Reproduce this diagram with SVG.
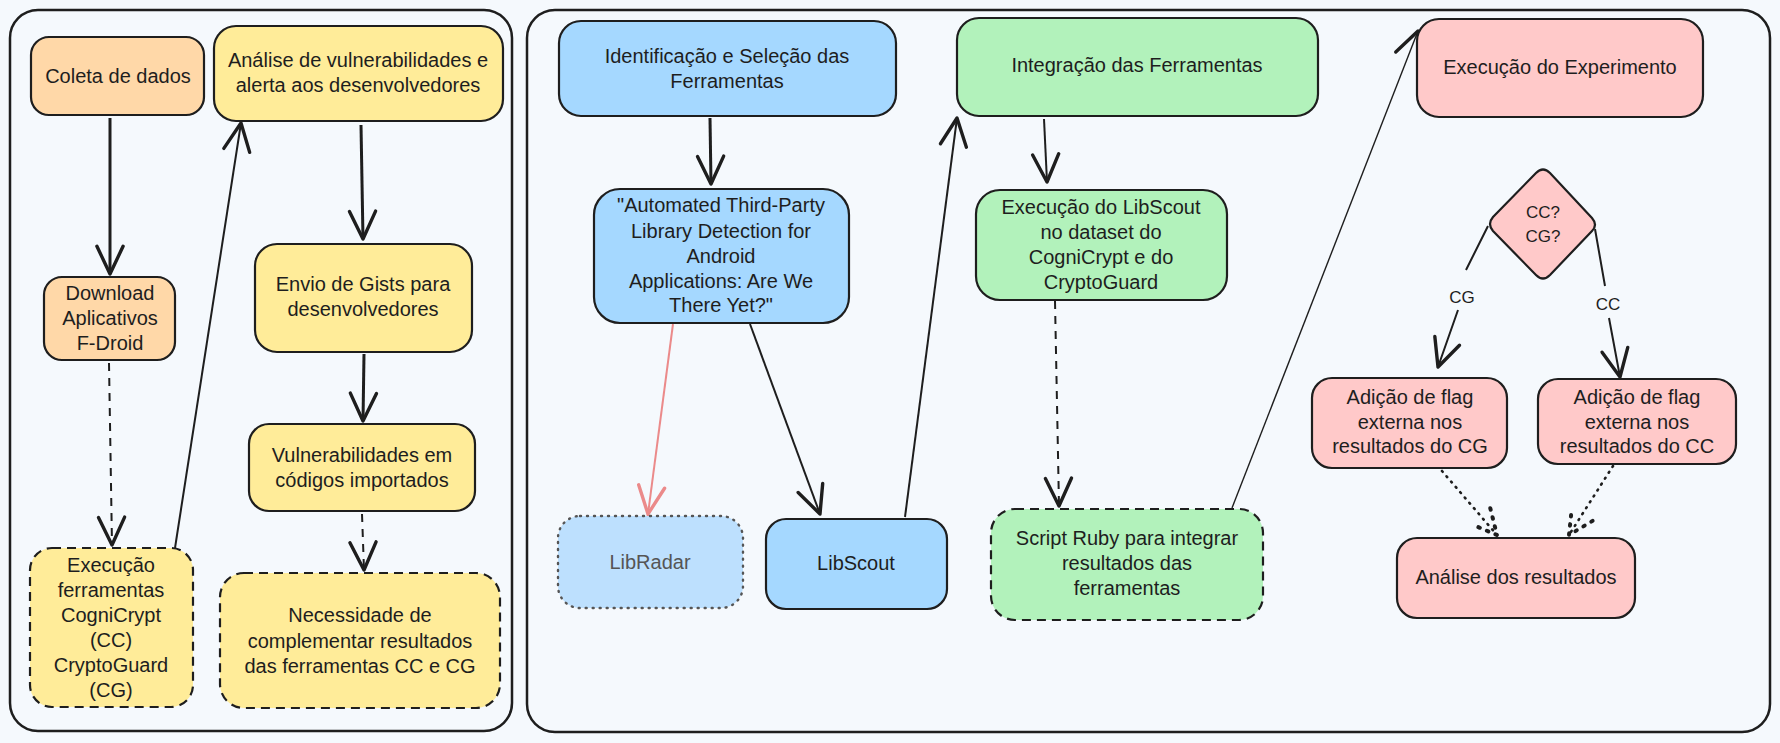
<svg xmlns="http://www.w3.org/2000/svg" width="1780" height="743" viewBox="0 0 1780 743">
<style>
text{font-family:"Liberation Sans",Arial,sans-serif;font-size:20px;fill:#1e1e1e;text-anchor:middle}
.n{stroke:#1e1e1e;stroke-width:2.2}
.dash{stroke-dasharray:9 6}
.or{fill:#ffd8a8}.ye{fill:#ffec99}.bl{fill:#a5d8ff}.gr{fill:#b2f2bb}.pk{fill:#ffc9c9}
.panel{fill:#f5f9fd;stroke:#1e1e1e;stroke-width:2.5}
.c{fill:none;stroke:#1e1e1e;stroke-width:2;marker-end:url(#ah)}
.thick{stroke-width:3}
.thin{stroke-width:1.4}
.dsh{stroke-dasharray:8 7}
.dot{stroke-dasharray:1 6;stroke-linecap:round;stroke-width:2.6;marker-end:url(#ahd)}
.red{stroke:#eb8a8a;marker-end:url(#ahr)}
.lbl{font-size:17px}
</style>
<defs>
<marker id="ah" markerUnits="userSpaceOnUse" markerWidth="40" markerHeight="40" refX="0" refY="0" viewBox="-22 -12 26 24" orient="auto" overflow="visible">
<path d="M-18 -8.5 L0 0 L-18 8.5" fill="none" stroke="#1e1e1e" stroke-width="2.2" stroke-linecap="round" stroke-linejoin="round"/>
</marker>
<marker id="ahr" markerUnits="userSpaceOnUse" markerWidth="40" markerHeight="40" refX="0" refY="0" viewBox="-22 -12 26 24" orient="auto" overflow="visible">
<path d="M-18 -8.5 L0 0 L-18 8.5" fill="none" stroke="#eb8a8a" stroke-width="2.2" stroke-linecap="round"/>
</marker>
<marker id="ahd" markerUnits="userSpaceOnUse" markerWidth="40" markerHeight="40" refX="0" refY="0" viewBox="-22 -12 26 24" orient="auto" overflow="visible">
<path d="M-16 -8 L0 0 L-16 8" fill="none" stroke="#1e1e1e" stroke-width="2.6" stroke-dasharray="1 5" stroke-linecap="round"/>
</marker>
</defs>
<rect x="0" y="0" width="1780" height="743" fill="#f5f9fd"/>
<g id="panels">
<rect class="panel" x="10" y="10" width="502" height="721" rx="28"/>
<rect class="panel" x="527" y="10" width="1243" height="722" rx="28"/>
</g>
<g id="connectors">
<line class="c thick" x1="110" y1="118" x2="110" y2="274"/>
<line class="c dsh" x1="109" y1="363" x2="112" y2="545"/>
<line class="c" x1="175" y1="548" x2="241" y2="123"/>
<line class="c thick" x1="361" y1="125" x2="363" y2="239"/>
<line class="c thick" x1="364" y1="354" x2="363" y2="421"/>
<line class="c dsh" x1="362" y1="514" x2="364" y2="570"/>
<line class="c thick" x1="710" y1="118" x2="711" y2="184"/>
<line class="c red" x1="673" y1="324" x2="648" y2="514"/>
<line class="c" x1="750" y1="324" x2="820" y2="514"/>
<line class="c" x1="905" y1="517" x2="957" y2="118"/>
<line class="c" x1="1044" y1="119" x2="1047" y2="182"/>
<line class="c dsh" x1="1055" y1="301" x2="1059" y2="506"/>
<line class="c thin" x1="1232" y1="508" x2="1418" y2="31"/>
<path class="c" d="M1488 226 L1466 270 M1458 310 L1438 367"/>
<path class="c" d="M1595 229 L1605 286 M1609 318 L1620 377"/>
<line class="c dot" x1="1442" y1="471" x2="1497" y2="535"/>
<line class="c dot" x1="1613" y1="466" x2="1569" y2="535"/>
<text class="lbl" x="1462" y="303">CG</text>
<text class="lbl" x="1608" y="310">CC</text>
</g>
<g id="coleta"><rect class="n or" x="31" y="37" width="173" height="78" rx="18"/><text x="118" y="83">Coleta de dados</text></g>
<g id="analise"><rect class="n ye" x="214" y="26" width="289" height="95" rx="22"/><text x="358" y="67">Análise de vulnerabilidades e</text><text x="358" y="92">alerta aos desenvolvedores</text></g>
<g id="download"><rect class="n or" x="44" y="277" width="131" height="83" rx="18"/><text x="110" y="300">Download</text><text x="110" y="325">Aplicativos</text><text x="110" y="350">F-Droid</text></g>
<g id="execucao"><rect class="n ye dash" x="30" y="548" width="163" height="159" rx="22"/><text x="111" y="572">Execução</text><text x="111" y="597">ferramentas</text><text x="111" y="622">CogniCrypt</text><text x="111" y="647">(CC)</text><text x="111" y="672">CryptoGuard</text><text x="111" y="697">(CG)</text></g>
<g id="envio"><rect class="n ye" x="255" y="244" width="217" height="108" rx="22"/><text x="363" y="291">Envio de Gists para</text><text x="363" y="316">desenvolvedores</text></g>
<g id="vuln"><rect class="n ye" x="249" y="424" width="226" height="87" rx="20"/><text x="362" y="462">Vulnerabilidades em</text><text x="362" y="487">códigos importados</text></g>
<g id="necessidade"><rect class="n ye dash" x="220" y="573" width="280" height="135" rx="24"/><text x="360" y="622">Necessidade de</text><text x="360" y="648">complementar resultados</text><text x="360" y="673">das ferramentas CC e CG</text></g>
<g id="identificacao"><rect class="n bl" x="559" y="21" width="337" height="95" rx="22"/><text x="727" y="63">Identificação e Seleção das</text><text x="727" y="88">Ferramentas</text></g>
<g id="automated"><rect class="n bl" x="594" y="189" width="255" height="134" rx="26"/><text x="721" y="212">"Automated Third-Party</text><text x="721" y="238">Library Detection for</text><text x="721" y="263">Android</text><text x="721" y="288">Applications: Are We</text><text x="721" y="312">There Yet?"</text></g>
<g id="libradar"><rect x="558" y="516" width="185" height="92" rx="22" fill="#bde0fe" stroke="#555" stroke-width="2.4" stroke-dasharray="1 6" stroke-linecap="round"/><text x="650" y="569" style="fill:#555">LibRadar</text></g>
<g id="libscout"><rect class="n bl" x="766" y="519" width="181" height="90" rx="20"/><text x="856" y="570">LibScout</text></g>
<g id="integracao"><rect class="n gr" x="957" y="18" width="361" height="98" rx="22"/><text x="1137" y="72">Integração das Ferramentas</text></g>
<g id="execlibscout"><rect class="n gr" x="976" y="190" width="251" height="110" rx="24"/><text x="1101" y="214">Execução do LibScout</text><text x="1101" y="239">no dataset do</text><text x="1101" y="264">CogniCrypt e do</text><text x="1101" y="289">CryptoGuard</text></g>
<g id="scriptruby"><rect class="n gr dash" x="991" y="509" width="272" height="111" rx="24"/><text x="1127" y="545">Script Ruby para integrar</text><text x="1127" y="570">resultados das</text><text x="1127" y="595">ferramentas</text></g>
<g id="experimento"><rect class="n pk" x="1417" y="19" width="286" height="98" rx="22"/><text x="1560" y="74">Execução do Experimento</text></g>
<g id="decisao"><path class="n pk" d="M1536 173 Q1543 166 1550 173 L1592 218 Q1598 225 1592 231 L1550 275 Q1543 282 1536 275 L1493 231 Q1487 224 1493 217 Z"/><text class="lbl" x="1543" y="218">CC?</text><text class="lbl" x="1543" y="242">CG?</text></g>
<g id="adicaocg"><rect class="n pk" x="1312" y="378" width="195" height="90" rx="20"/><text x="1410" y="404">Adição de flag</text><text x="1410" y="429">externa nos</text><text x="1410" y="453">resultados do CG</text></g>
<g id="adicaocc"><rect class="n pk" x="1538" y="379" width="198" height="85" rx="20"/><text x="1637" y="404">Adição de flag</text><text x="1637" y="429">externa nos</text><text x="1637" y="453">resultados do CC</text></g>
<g id="analiseres"><rect class="n pk" x="1397" y="538" width="238" height="80" rx="20"/><text x="1516" y="584">Análise dos resultados</text></g>
</svg>
